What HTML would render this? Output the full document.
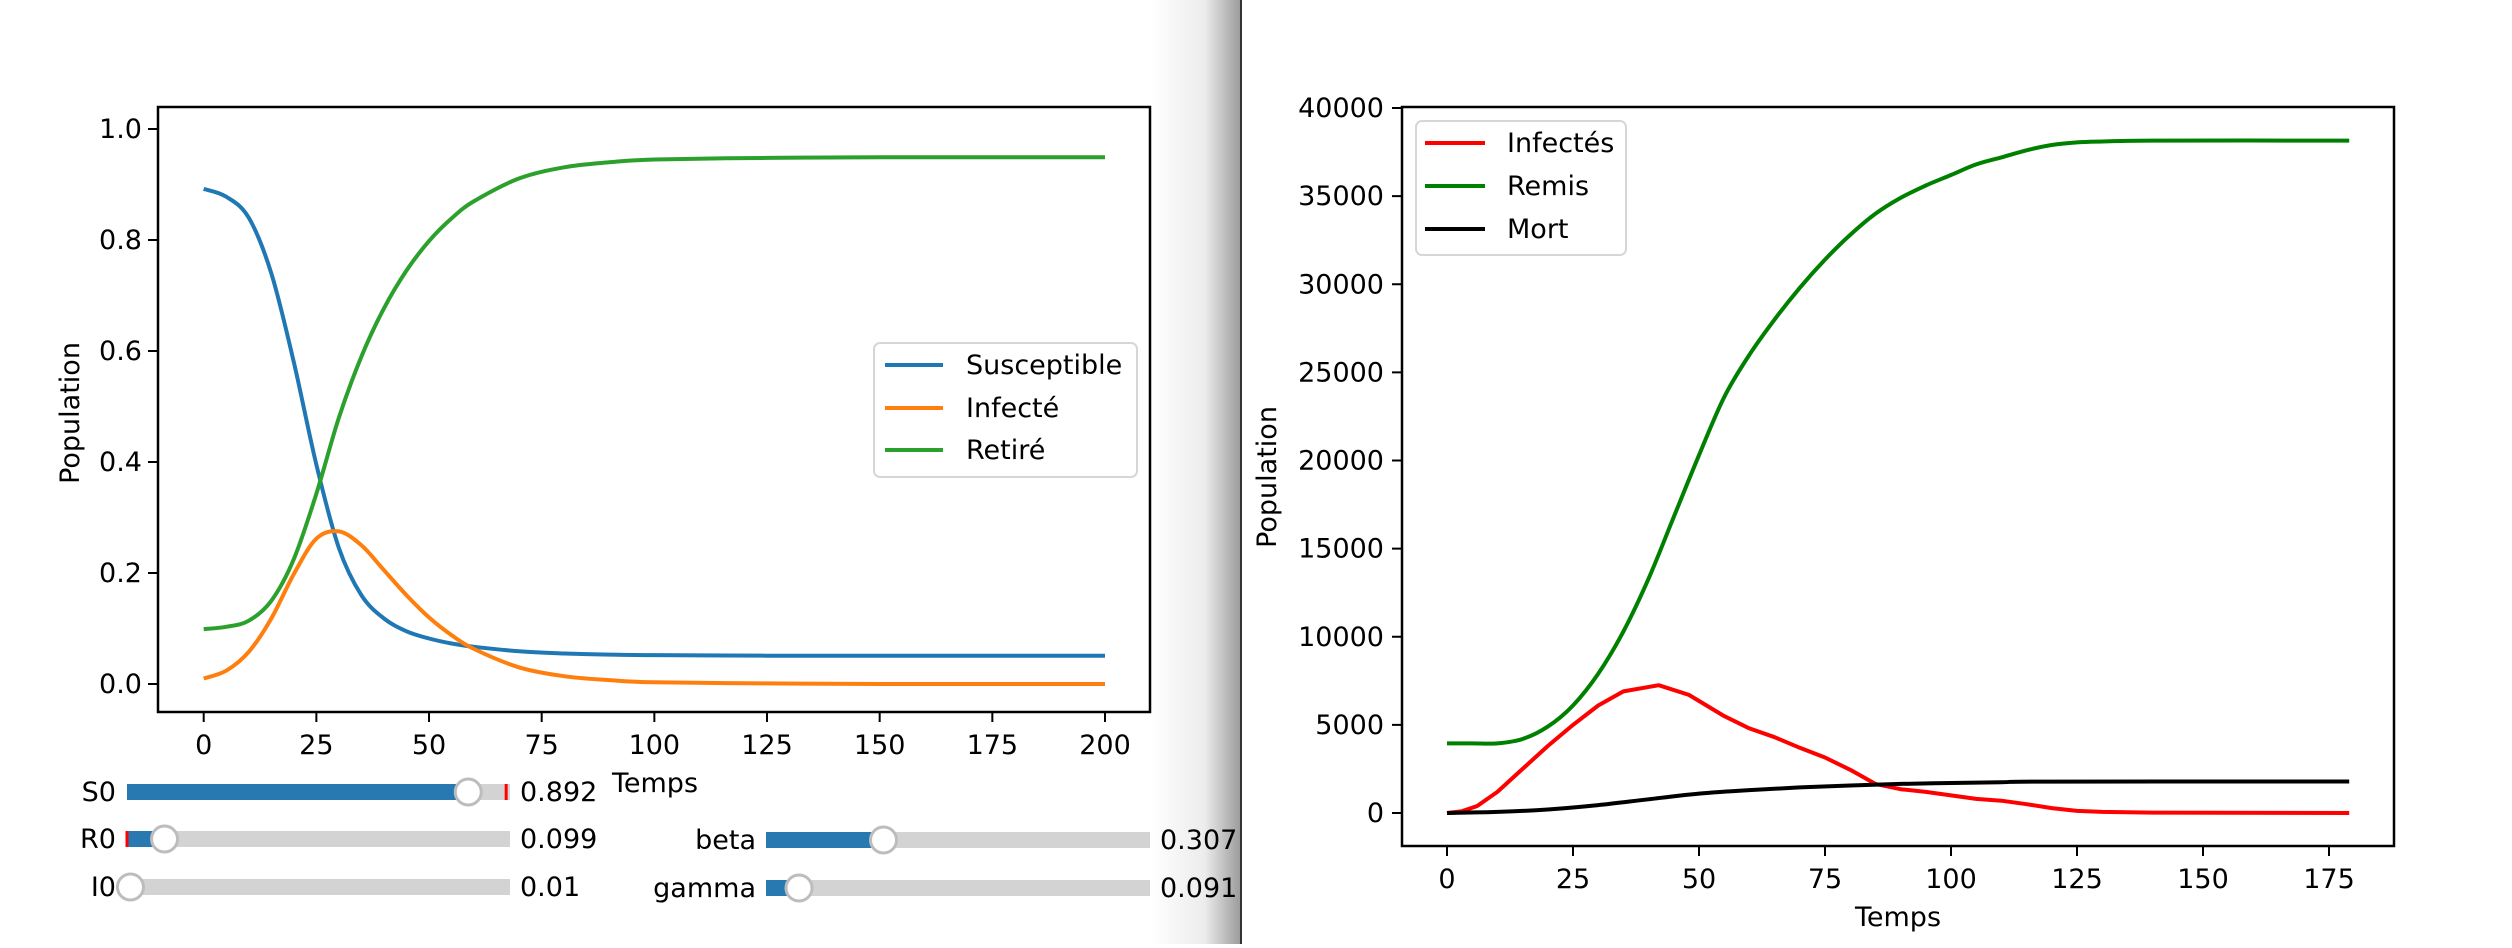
<!DOCTYPE html>
<html><head><meta charset="utf-8">
<style>
html,body{margin:0;padding:0;background:#fff;}
body{width:2512px;height:944px;overflow:hidden;position:relative;font-family:"DejaVu Sans","Liberation Sans",sans-serif;}
svg text{font-family:"DejaVu Sans","Liberation Sans",sans-serif;}
</style></head>
<body>
<svg id="root" width="2512" height="944" viewBox="0 0 2512 944" xmlns="http://www.w3.org/2000/svg">
<defs>
<linearGradient id="shade" x1="0" x2="1" y1="0" y2="0">
<stop offset="0" stop-color="#ffffff"/>
<stop offset="0.6" stop-color="#ececec"/>
<stop offset="1" stop-color="#9a9a9a"/>
</linearGradient>
</defs>
<rect x="1150" y="0" width="91" height="944" fill="url(#shade)"/>
<line x1="1241" y1="0" x2="1241" y2="944" stroke="#333" stroke-width="2"/>
<g id="left"></g>
<g id="right"></g>
<g id="sliders"></g>
</svg>
<script>
// ---- Left chart data (SIR) ----
const sirT = [0,5,10,15,20,25,30,35,40,45,50,55,60,70,80,90,100,125,150,200];
const sirS = [0.892,0.878,0.84,0.74,0.58,0.395,0.245,0.16,0.118,0.095,0.082,0.073,0.067,0.059,0.055,0.053,0.052,0.051,0.051,0.051];
const sirI = [0.01,0.024,0.058,0.118,0.198,0.262,0.275,0.25,0.205,0.16,0.12,0.088,0.063,0.03,0.014,0.007,0.003,0.001,0.0,0.0];
const sirR = [0.099,0.103,0.114,0.15,0.225,0.343,0.48,0.59,0.677,0.745,0.798,0.839,0.87,0.911,0.931,0.94,0.945,0.948,0.949,0.949];
const leftXTicks = [0,25,50,75,100,125,150,175,200];
const leftYTicks = ["0.0","0.2","0.4","0.6","0.8","1.0"];
// ---- Right chart data ----
const covT = [0,3,6,10,15,20,25,30,35,42,48,55,60,65,70,75,80,85,90,95,100,105,110,115,120,125,130,140,179];
const covInf = [0,100,400,1200,2500,3800,5000,6100,6900,7250,6700,5500,4800,4300,3700,3150,2450,1650,1350,1200,1000,800,700,500,280,120,60,20,0];
const covRemT = [0,5,10,15,20,25,30,35,40,45,50,55,60,65,70,75,80,85,90,95,100,105,110,115,120,125,130,140,179];
const covRem = [3950,3950,3950,4200,4900,6100,7900,10300,13300,16800,20300,23600,26000,28000,29800,31400,32800,34000,34900,35600,36200,36800,37200,37600,37900,38050,38100,38150,38150];
const covMortT = [0,10,20,30,40,50,60,70,80,90,100,110,120,179];
const covMort = [0,60,200,450,780,1100,1300,1450,1560,1650,1700,1750,1780,1790];
const rightXTicks = [0,25,50,75,100,125,150,175];
const rightYTicks = [0,5000,10000,15000,20000,25000,30000,35000,40000];
// ---- Sliders ----
const sliderNames = ["S0","R0","I0","beta","gamma"];
const sliderValues = [0.892,0.099,0.01,0.307,0.091];
const sliderLabels = ["0.892","0.099","0.01","0.307","0.091"];

const NS="http://www.w3.org/2000/svg";
function mk(parent,tag,attrs,text){const e=document.createElementNS(NS,tag);for(const k in attrs)e.setAttribute(k,attrs[k]);if(text!==undefined)e.textContent=text;parent.appendChild(e);return e;}
const FS=27;

// Left axes
const L={x0:158,x1:1150,y0:107,y1:712};
const lx=v=>203.7+(1105-203.7)*v/200;
const ly=v=>684-(684-129)*v/1.0;
const gl=document.getElementById('left');
function pathFrom(xs,ys,fx,fy){return xs.map((x,i)=>(i?'L':'M')+fx(x).toFixed(1)+','+fy(ys[i]).toFixed(1)).join(' ');}
function smooth(xs,ys,fx,fy){
  const p=xs.map((x,i)=>[fx(x),fy(ys[i])]);
  let d='M'+p[0][0].toFixed(1)+','+p[0][1].toFixed(1);
  for(let i=0;i<p.length-1;i++){
    const p0=p[Math.max(0,i-1)],p1=p[i],p2=p[i+1],p3=p[Math.min(p.length-1,i+2)];
    const c1=[p1[0]+(p2[0]-p0[0])/6,p1[1]+(p2[1]-p0[1])/6];
    const c2=[p2[0]-(p3[0]-p1[0])/6,p2[1]-(p3[1]-p1[1])/6];
    d+=` C${c1[0].toFixed(1)},${c1[1].toFixed(1)} ${c2[0].toFixed(1)},${c2[1].toFixed(1)} ${p2[0].toFixed(1)},${p2[1].toFixed(1)}`;
  }
  return d;
}
let e;
e=mk(gl,'path',{d:smooth(sirT,sirS,lx,ly),fill:'none',stroke:'#1f77b4','stroke-width':4});


e=mk(gl,'path',{d:smooth(sirT,sirI,lx,ly),fill:'none',stroke:'#ff7f0e','stroke-width':4});


e=mk(gl,'path',{d:smooth(sirT,sirR,lx,ly),fill:'none',stroke:'#2ca02c','stroke-width':4});


e=mk(gl,'rect',{x:L.x0,y:L.y0,width:L.x1-L.x0,height:L.y1-L.y0,fill:'none',stroke:'#000','stroke-width':2.5});


leftXTicks.forEach(v=>{
  mk(gl,'line',{x1:lx(v),x2:lx(v),y1:L.y1,y2:L.y1+10,stroke:'#000','stroke-width':2});
  e=mk(gl,'text',{x:lx(v),y:L.y1+42,'font-size':FS,'text-anchor':'middle'},String(v));
  
  
});
leftYTicks.forEach(s=>{
  const v=parseFloat(s);
  mk(gl,'line',{x1:L.x0-10,x2:L.x0,y1:ly(v),y2:ly(v),stroke:'#000','stroke-width':2});
  e=mk(gl,'text',{x:L.x0-16,y:ly(v)+9,'font-size':FS,'text-anchor':'end'},s);
  
  
});
e=mk(gl,'text',{x:655,y:792,'font-size':FS,'text-anchor':'middle'},'Temps');


e=mk(gl,'text',{x:0,y:0,'font-size':FS,'text-anchor':'middle',transform:'translate(79,413) rotate(-90)'},'Population');


// left legend
e=mk(gl,'rect',{x:874,y:343,width:263,height:134,rx:6,fill:'#fff','fill-opacity':0.8,stroke:'#d6d6d6','stroke-width':2});


[['Susceptible','#1f77b4',365],['Infecté','#ff7f0e',408],['Retiré','#2ca02c',450]].forEach(r=>{
  mk(gl,'line',{x1:885,x2:943,y1:r[2],y2:r[2],stroke:r[1],'stroke-width':4});
  e=mk(gl,'text',{x:966,y:r[2]+9,'font-size':FS},r[0]);
  
  
});

// Right axes
const R={x0:1402,x1:2394,y0:107,y1:846};
const rx=v=>1447+(2329-1447)*v/175;
const ry=v=>813-(813-108)*v/40000;
const gr=document.getElementById('right');
e=mk(gr,'path',{d:pathFrom(covT,covInf,rx,ry),fill:'none',stroke:'#ff0000','stroke-width':4,'stroke-linejoin':'round'});


e=mk(gr,'path',{d:smooth(covRemT,covRem,rx,ry),fill:'none',stroke:'#008000','stroke-width':4});


e=mk(gr,'path',{d:smooth(covMortT,covMort,rx,ry),fill:'none',stroke:'#000','stroke-width':4});


e=mk(gr,'rect',{x:R.x0,y:R.y0,width:R.x1-R.x0,height:R.y1-R.y0,fill:'none',stroke:'#000','stroke-width':2.5});


rightXTicks.forEach(v=>{
  mk(gr,'line',{x1:rx(v),x2:rx(v),y1:R.y1,y2:R.y1+10,stroke:'#000','stroke-width':2});
  e=mk(gr,'text',{x:rx(v),y:R.y1+42,'font-size':FS,'text-anchor':'middle'},String(v));
  
  
});
rightYTicks.forEach(v=>{
  mk(gr,'line',{x1:R.x0-10,x2:R.x0,y1:ry(v),y2:ry(v),stroke:'#000','stroke-width':2});
  e=mk(gr,'text',{x:R.x0-18,y:ry(v)+9,'font-size':FS,'text-anchor':'end'},String(v));
  
  
});
e=mk(gr,'text',{x:1898,y:926,'font-size':FS,'text-anchor':'middle'},'Temps');


e=mk(gr,'text',{x:0,y:0,'font-size':FS,'text-anchor':'middle',transform:'translate(1276,477) rotate(-90)'},'Population');


e=mk(gr,'rect',{x:1416,y:121,width:210,height:134,rx:6,fill:'#fff','fill-opacity':0.8,stroke:'#d6d6d6','stroke-width':2});


[['Infectés','#ff0000',143],['Remis','#008000',186],['Mort','#000',229]].forEach(r=>{
  mk(gr,'line',{x1:1425,x2:1485,y1:r[2],y2:r[2],stroke:r[1],'stroke-width':4});
  e=mk(gr,'text',{x:1507,y:r[2]+9,'font-size':FS},r[0]);
  
  
});

// Sliders
const gs=document.getElementById('sliders');
const slGeom=[
  {x0:127,x1:510,y:792,lab:116,val:520,init:0.99},
  {x0:127,x1:510,y:839,lab:116,val:520,init:0},
  {x0:127,x1:510,y:887,lab:116,val:520,init:null},
  {x0:766,x1:1150,y:840,lab:756,val:1160,init:null},
  {x0:766,x1:1150,y:888,lab:756,val:1160,init:null}
];
const knobFrac=[0.891,0.098,0.009,0.306,0.086];
sliderNames.forEach((n,i)=>{
  const g=slGeom[i];
  const kx=g.x0+(g.x1-g.x0)*knobFrac[i];
  e=mk(gs,'text',{x:g.lab,y:g.y+9,'font-size':FS,'text-anchor':'end'},n);
  
  
  e=mk(gs,'rect',{x:g.x0,y:g.y-8,width:g.x1-g.x0,height:16,fill:'#d3d3d3'});
  
  
  mk(gs,'rect',{x:g.x0,y:g.y-8,width:kx-g.x0,height:16,fill:'#2878b2'});
  if(g.init!==null){mk(gs,'rect',{x:g.x0+(g.x1-g.x0)*g.init-1.5,y:g.y-8,width:3,height:16,fill:'#ff0000'});}
  e=mk(gs,'circle',{cx:kx,cy:g.y,r:13,fill:'#fff',stroke:'#bdbdbd','stroke-width':3});
  
  
  e=mk(gs,'text',{x:g.val,y:g.y+9,'font-size':FS},sliderLabels[i]);
  
  
});
</script>
</body></html>
